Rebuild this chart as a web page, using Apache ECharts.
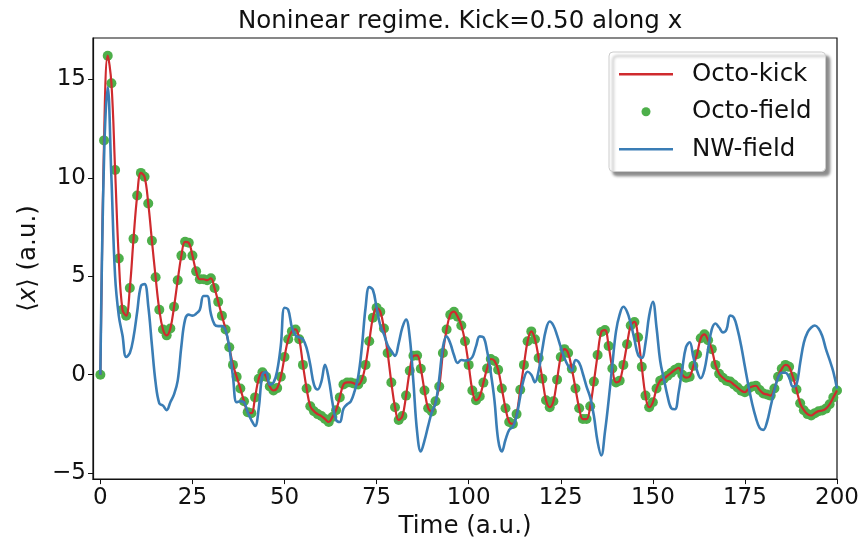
<!DOCTYPE html>
<html>
<head>
<meta charset="utf-8">
<script src="https://cdn.jsdelivr.net/npm/echarts@6/dist/echarts.min.js"></script>
<style>
  html, body { margin: 0; padding: 0; background: #fff; }
  #chart { width: 864px; height: 544px; }
</style>
</head>
<body>
<div id="chart"></div>
<script>
let chartDom = document.getElementById('chart');
let chart = echarts.init(chartDom);
let option;

// time step between samples (a.u.)
const dt = 1;

// Octo-kick / Octo-field: same trajectory, sampled every dt
const octoField = [
  0, 11.9, 16.2, 14.8, 10.4, 5.9, 3.3, 3.0, 4.4, 6.9,
  9.1, 10.25, 10.05, 8.7, 6.8, 4.95, 3.3, 2.3, 2.0, 2.35,
  3.45, 4.8, 6.05, 6.75, 6.7, 6.05, 5.25, 4.85, 4.85, 4.8,
  4.9, 4.4, 3.7, 3.0, 2.3, 1.4, 0.5, -0.1, -0.7, -1.35,
  -1.9, -1.95, -1.15, -0.2, 0.12, -0.1, -0.6, -0.8, -0.68, -0.1,
  0.9, 1.8, 2.2, 2.3, 1.8, 0.5, -0.7, -1.6, -1.85, -2.0,
  -2.1, -2.25, -2.4, -2.15, -1.8, -1.15, -0.5, -0.39, -0.39, -0.45,
  -0.5, -0.25, 0.5, 1.7, 2.9, 3.4, 3.2, 2.35, 1.1, -0.39,
  -1.65, -2.3, -2.1, -1.06, 0.2, 0.96, 0.98, 0.3, -0.8, -1.7,
  -1.87, -1.35, -0.6, 1.1, 2.3, 3.05, 3.2, 2.95, 2.5, 1.7,
  0.5, -0.8, -1.3, -1.1, -0.4, 0.32, 0.8, 0.7, 0.25, -0.7,
  -1.7, -2.4, -2.5, -2.0, -0.76, 0.5, 1.7, 2.2, 1.8, 0.85,
  -0.2, -1.3, -1.65, -1.35, -0.25, 0.9, 1.3, 1.1, 0.3, -0.7,
  -1.7, -2.25, -2.25, -1.6, -0.35, 1.0, 2.17, 2.27, 1.46, 0.32,
  -0.39, -0.3, 0.5, 1.55, 2.5, 2.68, 1.9, 0.4, -1.06, -1.65,
  -1.4, -0.7, -0.3, -0.2, -0.05, 0.1, 0.25, 0.35, 0.0, -0.15,
  -0.1, 0.45, 1.04, 1.85, 2.05, 1.75, 1.3, 0.5, 0.05, -0.15,
  -0.3, -0.35, -0.5, -0.65, -0.81, -0.89, -0.7, -0.6, -0.56, -0.78,
  -0.95, -1.0, -1.06, -0.7, -0.1, 0.3, 0.5, 0.4, -0.1, -0.75,
  -1.45, -1.8, -2.0, -2.07, -1.95, -1.85, -1.82, -1.72, -1.5, -1.15,
  -0.8
];

// NW-field, sampled every dt
const nwField = [
  0, 11.0, 14.6, 10.0, 5.0, 3.0, 2.0, 0.9, 1.1, 1.9,
  3.2, 4.5, 4.6, 3.5, 1.5, -0.4, -1.45, -1.57, -1.8, -1.4,
  -1.0, -0.3, 1.46, 2.8, 3.05, 3.0, 3.1, 3.3, 4.0, 4.0,
  3.1, 2.55, 2.47, 2.47, 2.25, 1.4, -0.1, -1.4, -1.35, -1.4,
  -1.9, -2.3, -2.6, -1.7, 0.0, 0.15, -0.5, -0.4, 0.2, 1.5,
  3.4, 3.3, 2.4, 2.0, 1.9, 1.8, 1.35, 0.5, -0.5, -0.75,
  -0.35, 0.5, -0.2, -1.4, -2.3, -2.4, -1.73, -1.5, -1.35, -0.85,
  -0.1, 1.4, 3.4, 4.45, 4.3, 3.4, 2.5, 2.05, 1.5, 1.2,
  0.96, 1.6, 2.4, 2.8, 1.9, -0.4, -2.9, -3.9, -3.35, -2.6,
  -1.9, -1.45, -0.2, 1.4, 1.95, 1.6, 1.0, 0.6, 0.75, 0.72,
  0.75, 0.9, 1.45, 1.95, 1.9, 1.2, 0.1, -1.3, -3.3, -3.9,
  -3.3, -2.8, -2.65, -2.1, -1.1, -0.2, 0.15, 0.0, -0.38, 0.2,
  1.3, 2.3, 2.7, 2.5, 2.0, 1.4, 0.85, 0.45, 0.2, 0.75,
  0.6, 0.05, -0.6, -1.15, -2.1, -3.4, -4.1, -2.9, -1.3, 0.5,
  2.2, 3.06, 3.45, 3.2, 2.6, 1.8, 1.0, 0.85, 1.6, 3.0,
  3.7, 2.4, 0.7, -0.22, -1.1, -1.7, -1.75, -0.9, 0.3, 1.4,
  1.65, 0.9, 0.2, -0.18, 0.25, 1.3, 2.3, 2.6, 2.4, 2.15,
  2.3, 3.0, 2.9, 2.3, 1.45, 0.4, -0.6, -1.5, -2.2, -2.7,
  -2.8, -2.4, -1.6, -0.8, -0.15, 0.1, 0.1, -0.13, -0.6, -0.5,
  0.6, 1.63, 2.15, 2.4, 2.5, 2.35, 1.97, 1.3, 0.75, 0.15,
  -0.7
];

const xTicks = [0, 25, 50, 75, 100, 125, 150, 175, 200];
const yTicks = [-5, 0, 5, 10, 15];

const font = 'DejaVu Sans';
const lineIcon = 'path://M0,0h54v2.4h-54z';

function pairs(values) {
  return values.map(function (v, i) { return [i * dt, v]; });
}

option = {
  backgroundColor: '#ffffff',
  animation: false,
  textStyle: { fontFamily: font },
  title: {
    text: 'Noninear regime. Kick=0.50 along x',
    left: 233,
    top: 4,
    textStyle: { fontFamily: font, fontSize: 24.5, fontWeight: 'normal', color: '#111' }
  },
  legend: {
    left: 609,
    top: 52,
    orient: 'vertical',
    itemWidth: 54,
    itemHeight: 9,
    itemGap: 9,
    padding: [8, 14, 8, 10],
    symbolKeepAspect: true,
    backgroundColor: '#fff',
    borderColor: '#cccccc',
    borderWidth: 1,
    borderRadius: 4,
    shadowColor: 'rgba(0,0,0,0.45)',
    shadowBlur: 3,
    shadowOffsetX: 4,
    shadowOffsetY: 4,
    textStyle: { fontFamily: font, fontSize: 24.5, lineHeight: 28.5, color: '#111', padding: [0, 0, 0, 14] },
    data: [
      { name: 'Octo-kick', icon: lineIcon },
      { name: 'Octo-field', icon: 'circle' },
      { name: 'NW-field', icon: lineIcon }
    ]
  },
  grid: {
    left: 93,
    right: 27,
    top: 38,
    bottom: 61,
    show: true,
    borderColor: '#111',
    borderWidth: 1.2,
    backgroundColor: 'transparent'
  },
  xAxis: {
    type: 'value',
    min: -2,
    max: 200,
    name: 'Time (a.u.)',
    nameLocation: 'middle',
    nameGap: 31,
    nameTextStyle: { fontFamily: font, fontSize: 24.5, color: '#111' },
    splitLine: { show: false },
    axisLine: { show: true, onZero: false, lineStyle: { color: '#111', width: 1.2 } },
    axisTick: { show: true, length: 5, lineStyle: { color: '#111' }, customValues: xTicks },
    axisLabel: { fontFamily: font, fontSize: 23, color: '#111', margin: 7, customValues: xTicks }
  },
  yAxis: {
    type: 'value',
    min: -5.3,
    max: 17.1,
    name: '{a|⟨}{i|x}{a|⟩ (a.u.)}',
    nameLocation: 'middle',
    nameGap: 50,
    nameRotate: 90,
    nameTextStyle: {
      rich: {
        a: { fontFamily: font, fontSize: 24.5, color: '#111' },
        i: { fontFamily: font, fontSize: 24.5, color: '#111', fontStyle: 'italic' }
      }
    },
    splitLine: { show: false },
    axisLine: { show: true, onZero: false, lineStyle: { color: '#111', width: 1.2 } },
    axisTick: { show: true, length: 5, lineStyle: { color: '#111' }, customValues: yTicks },
    axisLabel: {
      fontFamily: font, fontSize: 23, color: '#111', margin: 7, customValues: yTicks,
      formatter: function (v) { return v < 0 ? '\u2212' + Math.abs(v) : String(v); }
    }
  },
  series: [
    {
      name: 'Octo-kick',
      type: 'line',
      smooth: 0.4,
      symbol: 'none',
      color: '#cf2a2e',
      lineStyle: { color: '#cf2a2e', width: 2.2 },
      data: pairs(octoField)
    },
    {
      name: 'Octo-field',
      type: 'scatter',
      symbol: 'circle',
      symbolSize: 10,
      color: '#4daf4a',
      itemStyle: { color: '#4daf4a', opacity: 1 },
      data: pairs(octoField)
    },
    {
      name: 'NW-field',
      type: 'line',
      smooth: 0.4,
      symbol: 'none',
      color: '#3a7db5',
      lineStyle: { color: '#3a7db5', width: 2.6 },
      data: pairs(nwField)
    }
  ]
};

option && chart.setOption(option);
</script>
</body>
</html>
